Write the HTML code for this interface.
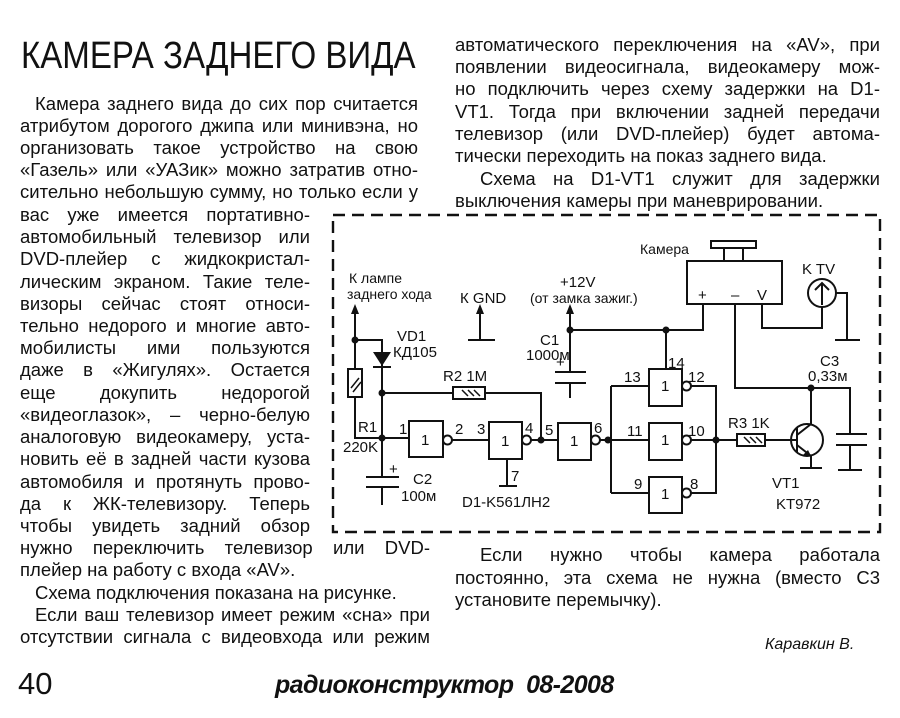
<!DOCTYPE html>
<html><head><meta charset="utf-8"><style>
body{margin:0;background:#fff;}
#p{position:relative;width:900px;height:718px;overflow:hidden;background:#fff;font-family:"Liberation Sans","DejaVu Sans",sans-serif;color:#111;}
.l{position:absolute;font-size:18.5px;line-height:20px;white-space:nowrap;}
.j{text-align:justify;text-align-last:justify;white-space:normal;height:20px;overflow:visible;}
svg text{font-family:"Liberation Sans","DejaVu Sans",sans-serif;fill:#111;}
</style></head><body><div id="p">
<div class="l" style="left:21px;top:34px;font-size:38px;line-height:44px;transform:scaleX(0.87);transform-origin:left;">КАМЕРА ЗАДНЕГО ВИДА</div>

<div class="l j" style="left:35px;top:94px;width:383px">Камера заднего вида до сих пор считается</div>
<div class="l j" style="left:20px;top:116px;width:398px">атрибутом дорогого джипа или минивэна, но</div>
<div class="l j" style="left:20px;top:138px;width:398px">организовать такое устройство на свою</div>
<div class="l j" style="left:20px;top:160px;width:398px">«Газель» или «УАЗик» можно затратив отно-</div>
<div class="l j" style="left:20px;top:182px;width:398px">сительно небольшую сумму, но только если у</div>
<div class="l j" style="left:20px;top:205px;width:290px">вас уже имеется портативно-</div>
<div class="l j" style="left:20px;top:227px;width:290px">автомобильный телевизор или</div>
<div class="l j" style="left:20px;top:249px;width:290px">DVD-плейер с жидкокристал-</div>
<div class="l j" style="left:20px;top:272px;width:290px">лическим экраном. Такие теле-</div>
<div class="l j" style="left:20px;top:294px;width:290px">визоры сейчас стоят относи-</div>
<div class="l j" style="left:20px;top:316px;width:290px">тельно недорого и многие авто-</div>
<div class="l j" style="left:20px;top:338px;width:290px">мобилисты ими пользуются</div>
<div class="l j" style="left:20px;top:360px;width:290px">даже в «Жигулях». Остается</div>
<div class="l j" style="left:20px;top:383px;width:290px">еще докупить недорогой</div>
<div class="l j" style="left:20px;top:405px;width:290px">«видеоглазок», – черно-белую</div>
<div class="l j" style="left:20px;top:427px;width:290px">аналоговую видеокамеру, уста-</div>
<div class="l j" style="left:20px;top:449px;width:290px">новить её в задней части кузова</div>
<div class="l j" style="left:20px;top:472px;width:290px">автомобиля и протянуть прово-</div>
<div class="l j" style="left:20px;top:494px;width:290px">да к ЖК-телевизору. Теперь</div>
<div class="l j" style="left:20px;top:516px;width:290px">чтобы увидеть задний обзор</div>
<div class="l j" style="left:20px;top:538px;width:410px">нужно переключить телевизор или DVD-</div>
<div class="l" style="left:20px;top:560px;">плейер на работу с входа «AV».</div>
<div class="l" style="left:35px;top:583px;">Схема подключения  показана на рисунке.</div>
<div class="l j" style="left:35px;top:605px;width:395px">Если ваш телевизор имеет режим «сна» при</div>
<div class="l j" style="left:20px;top:627px;width:410px">отсутствии сигнала с видеовхода или режим</div>

<div class="l j" style="left:455px;top:35px;width:425px">автоматического переключения на «AV», при</div>
<div class="l j" style="left:455px;top:57px;width:425px">появлении видеосигнала, видеокамеру мож-</div>
<div class="l j" style="left:455px;top:79px;width:425px">но подключить через схему задержки на D1-</div>
<div class="l j" style="left:455px;top:102px;width:425px">VT1. Тогда при включении задней передачи</div>
<div class="l j" style="left:455px;top:124px;width:425px">телевизор (или DVD-плейер) будет автома-</div>
<div class="l" style="left:455px;top:146px;">тически переходить на показ заднего вида.</div>
<div class="l j" style="left:480px;top:169px;width:400px">Схема на D1-VT1 служит для задержки</div>
<div class="l" style="left:455px;top:191px;">выключения камеры при маневрировании.</div>
<div class="l j" style="left:480px;top:545px;width:400px">Если нужно чтобы камера работала</div>
<div class="l j" style="left:455px;top:568px;width:425px">постоянно, эта схема не нужна (вместо С3</div>
<div class="l" style="left:455px;top:590px;">установите перемычку).</div>
<div class="l" style="left:765px;top:635px;font-style:italic;font-size:16px;">Каравкин В.</div>
<div class="l" style="left:18px;top:666px;font-size:31px;line-height:36px;">40</div>
<div class="l" style="left:275px;top:670px;font-size:25px;line-height:30px;font-style:italic;font-weight:bold;letter-spacing:-0.6px;">радиоконструктор&nbsp;&nbsp;08-2008</div>

<svg style="position:absolute;left:0;top:0" width="900" height="718" viewBox="0 0 900 718">
<g stroke="#111" stroke-width="2" fill="none">
<path d="M333 215 H880 V532 H333 Z" stroke-dasharray="12 7" stroke-width="2.4"/>
<path d="M355 310 V438 H382"/>
<path d="M355 340 H382 V438"/>
<rect x="348" y="369" width="14" height="28" fill="#fff"/>
<path d="M351 388 L359 378 M353 392 L361 382" stroke-width="1.5"/>
<path d="M382 393 H453 M485 393 H541 V440"/>
<rect x="453" y="387" width="32" height="12" fill="#fff"/>
<path d="M462 390 L468 396 M468 390 L474 396 M474 390 L480 396" stroke-width="1.5"/>
<path d="M382 438 V477 M366 477 H399 M366 487 H399 M382 487 V505"/>
<path d="M382 438 H409"/>
<rect x="409" y="421" width="34" height="36" fill="#fff"/>
<circle cx="447.5" cy="440" r="4.5" fill="#fff"/>
<path d="M452 440 H489"/>
<rect x="489" y="422" width="33" height="37" fill="#fff"/>
<circle cx="526.5" cy="440" r="4.5" fill="#fff"/>
<path d="M531 440 H558 M507 459 V486 M499 486 H517"/>
<rect x="558" y="423" width="33" height="37" fill="#fff"/>
<circle cx="595.5" cy="440" r="4.5" fill="#fff"/>
<path d="M600 440 H611 M611 386 V493 M611 386 H649 M611 440 H649 M611 493 H649"/>
<rect x="649" y="369" width="33" height="37" fill="#fff"/>
<rect x="649" y="423" width="33" height="37" fill="#fff"/>
<rect x="649" y="477" width="33" height="36" fill="#fff"/>
<circle cx="686.5" cy="386" r="4.5" fill="#fff"/>
<circle cx="686.5" cy="440" r="4.5" fill="#fff"/>
<circle cx="686.5" cy="493" r="4.5" fill="#fff"/>
<path d="M691 386 H716 V493 H691 M691 440 H737"/>
<path d="M480 310 V340 M468 340 H495"/>
<path d="M570 310 V372 M555 372 H586 M555 383 H586 M570 383 V398"/>
<path d="M570 330 H703 V304 M666 330 V369"/>
<rect x="687" y="261" width="95" height="43"/>
<rect x="711" y="241" width="45" height="7"/>
<path d="M724 248 V261 M743 248 V261"/>
<path d="M762 304 V328 H822 V307"/>
<circle cx="822" cy="293" r="14"/>
<path d="M822 305 V283 M815 290 L822 283 L829 290"/>
<path d="M836 293 H847 V340 M835 340 H860"/>
<rect x="737" y="434" width="28" height="12" fill="#fff"/>
<path d="M744 437 L750 443 M750 437 L756 443 M756 437 L762 443" stroke-width="1.5"/>
<path d="M765 440 H797"/>
<circle cx="807" cy="440" r="16"/>
<path d="M797 428 V452 M797 435 L811 424 V388 M797 445 L811 456 V468 M800 468 H822"/>
<path d="M735 304 V388 H850 V434 M836 434 H867 M836 445 H867 M850 445 V470 M838 470 H862"/>
</g>
<g fill="#111">
<path d="M355 304 L351 314 L359 314 Z M480 304 L476 314 L484 314 Z M570 304 L566 314 L574 314 Z"/>
<path d="M373 352 H391 L382 366 Z"/><path d="M373 367 H391" stroke="#111" stroke-width="2"/>
<path d="M811 456 L803 455 L808 450 Z"/>
<circle cx="355" cy="340" r="3.5"/><circle cx="382" cy="393" r="3.5"/><circle cx="382" cy="438" r="3.5"/>
<circle cx="541" cy="440" r="3.5"/><circle cx="608" cy="440" r="3.5"/><circle cx="570" cy="330" r="3.5"/>
<circle cx="666" cy="330" r="3.5"/><circle cx="716" cy="440" r="3.5"/><circle cx="811" cy="388" r="3.5"/>
</g>
<g font-size="15">
<text x="349" y="283" font-size="14">К лампе</text><text x="347" y="299" font-size="14">заднего хода</text>
<text x="460" y="303">К GND</text>
<text x="560" y="287">+12V</text><text x="530" y="303" font-size="14">(от замка зажиг.)</text>
<text x="397" y="341">VD1</text><text x="393" y="357">КД105</text>
<text x="540" y="345">C1</text><text x="526" y="360">1000м</text><text x="556" y="367">+</text>
<text x="443" y="381">R2 1M</text>
<text x="358" y="432">R1</text><text x="343" y="452">220K</text>
<text x="389" y="474">+</text><text x="413" y="484">C2</text><text x="401" y="501">100м</text>
<text x="399" y="434">1</text><text x="421" y="445">1</text><text x="455" y="434">2</text><text x="477" y="434">3</text>
<text x="501" y="446">1</text><text x="525" y="433">4</text><text x="545" y="435">5</text><text x="570" y="446">1</text><text x="594" y="433">6</text>
<text x="511" y="481">7</text>
<text x="462" y="507">D1-K561ЛН2</text>
<text x="640" y="254" font-size="14">Камера</text>
<text x="698" y="300">+</text><text x="731" y="300">–</text><text x="757" y="300">V</text>
<text x="802" y="274">K TV</text>
<text x="668" y="368">14</text><text x="624" y="382">13</text><text x="688" y="382">12</text>
<text x="627" y="436">11</text><text x="688" y="436">10</text><text x="634" y="489">9</text><text x="690" y="489">8</text>
<text x="661" y="391">1</text><text x="661" y="445">1</text><text x="661" y="499">1</text>
<text x="728" y="428">R3  1K</text>
<text x="820" y="366">C3</text><text x="808" y="381">0,33м</text>
<text x="772" y="488">VT1</text><text x="776" y="509">KT972</text>
</g>
</svg>
</div></body></html>
